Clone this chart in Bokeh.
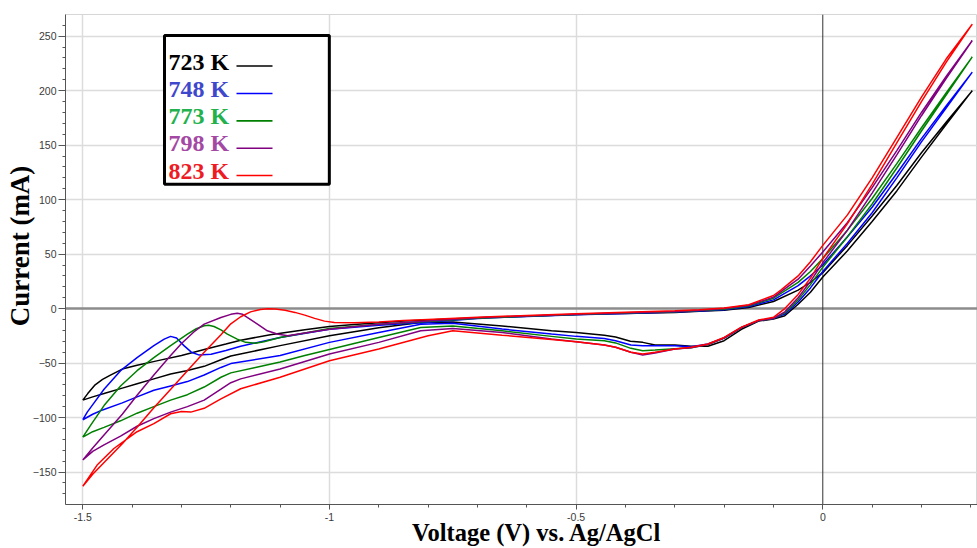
from bokeh.plotting import figure
from bokeh.models import (Range1d, FixedTicker, Span, Label, BoxAnnotation,
                          CustomJSTickFormatter)
from bokeh.embed import file_html
from bokeh.resources import INLINE

# Cyclic voltammograms: potential (V vs. Ag/AgCl) and current (mA).
# Each loop starts at -1.5 V, sweeps anodically to +0.303 V and returns.
temps = ["723 K", "748 K", "773 K", "798 K", "823 K"]
curve_colors = ["#000000", "#0000ff", "#008000", "#800080", "#ff0000"]
legend_colors = ["#000000", "#3f48cc", "#22b14c", "#a349a4", "#ed1c24"]

v_723 = [-1.5, -1.49, -1.475, -1.46, -1.444, -1.42, -1.39, -1.35, -1.30, -1.25, -1.21, -1.18,
         -1.12, -1.05, -1.0, -0.95, -0.9, -0.85, -0.8, -0.7, -0.6, -0.5, -0.4, -0.3, -0.25, -0.2,
         -0.15, -0.1, -0.05, -0.025, 0.0, 0.05, 0.1, 0.15, 0.2, 0.25, 0.303,
         0.25, 0.2, 0.15, 0.1, 0.05, 0.0, -0.025, -0.05, -0.077, -0.1, -0.13, -0.165, -0.2,
         -0.233, -0.267, -0.3, -0.34, -0.365, -0.39, -0.42, -0.443, -0.5, -0.55, -0.65, -0.75,
         -0.815, -0.9, -1.0, -1.1, -1.2, -1.22, -1.254, -1.29, -1.322, -1.356, -1.39, -1.42,
         -1.457, -1.48, -1.5]
i_723 = [-84, -78, -70, -65, -61, -55.5, -52, -48, -43, -37, -32.5, -29,
         -24, -19.5, -16.5, -14.5, -13, -11.5, -10.5, -8.5, -7, -5.5, -4.5, -3.5, -2.5, -1.5,
         1, 6.5, 17, 24, 33, 58, 85, 113, 143, 171, 200,
         169, 139, 108, 80, 53, 29, 15, 4, -6.5, -9.5, -11.5, -19, -29.5,
         -34.5, -34.5, -33.5, -33.5, -31, -30, -26, -24.4, -22, -20.3, -16, -12.3,
         -12.8, -17.5, -25, -34, -43.5, -47, -53, -57, -60, -64.5, -69, -73,
         -78, -81, -84]

v_748 = [-1.5, -1.491, -1.478, -1.457, -1.4235, -1.39, -1.356, -1.335, -1.322, -1.31, -1.295,
         -1.28, -1.265, -1.24, -1.21, -1.18, -1.1, -1.0, -0.9, -0.8, -0.7, -0.6, -0.5, -0.4,
         -0.3, -0.25, -0.2, -0.15, -0.1, -0.05, -0.025, 0.0, 0.05, 0.1, 0.15, 0.2, 0.25, 0.303,
         0.25, 0.2, 0.15, 0.1, 0.05, 0.0, -0.025, -0.05, -0.077, -0.1, -0.13, -0.165, -0.2,
         -0.233, -0.267, -0.3, -0.34, -0.365, -0.389, -0.42, -0.443, -0.5, -0.55, -0.65, -0.75,
         -0.815, -0.9, -1.0, -1.1, -1.2, -1.22, -1.254, -1.288, -1.322, -1.356, -1.39, -1.42,
         -1.46, -1.48, -1.5]
i_748 = [-102, -95, -87, -74, -57, -45, -34, -28, -25.5, -27, -34,
         -40, -42.5, -42, -38.5, -34.5, -26.5, -19, -15.2, -12.5, -9, -7.2, -5.7, -4.4,
         -3.2, -2.2, -1, 2, 8, 21, 30, 40, 66, 93, 124, 156, 186, 217,
         184, 153, 120, 88, 60, 34, 19, 6, -5, -9, -11, -17.5, -27,
         -32.5, -35, -34, -34, -34, -33.5, -29.5, -27.4, -25.5, -23.3, -18.8, -13.4,
         -14.3, -22, -31, -43, -50.5, -54, -61, -67, -71, -75, -81, -86.5,
         -93, -97, -102]

v_773 = [-1.5, -1.484, -1.457, -1.4235, -1.39, -1.356, -1.322, -1.288, -1.27, -1.254, -1.245,
         -1.234, -1.22, -1.207, -1.187, -1.17, -1.15, -1.133, -1.1, -1.0, -0.9, -0.8, -0.7,
         -0.6, -0.5, -0.4, -0.3, -0.25, -0.2, -0.15, -0.1, -0.05, -0.025, 0.0, 0.05, 0.1, 0.15,
         0.2, 0.25, 0.303,
         0.25, 0.2, 0.15, 0.1, 0.05, 0.0, -0.025, -0.05, -0.077, -0.1, -0.13, -0.165, -0.2,
         -0.233, -0.267, -0.3, -0.34, -0.365, -0.389, -0.42, -0.443, -0.5, -0.55, -0.65, -0.75,
         -0.815, -0.9, -1.0, -1.05, -1.1, -1.15, -1.2, -1.22, -1.254, -1.288, -1.322, -1.356,
         -1.39, -1.4235, -1.457, -1.48, -1.5]
i_773 = [-118, -107, -89, -71, -57, -45, -34, -23.5, -18.5, -15.7, -15.3,
         -16.4, -19.5, -23.4, -28, -31, -31.8, -30.5, -26.5, -18.2, -14.3, -11.8, -8.8,
         -7, -5.4, -4.1, -2.9, -1.8, -0.5, 2.5, 9.5, 24, 34, 46, 72, 101, 133,
         166, 198, 231,
         196, 163, 129, 96, 66, 38, 22, 8, -4, -9, -11, -17.4, -27,
         -33, -36, -36.8, -38, -38.6, -36.5, -31.5, -29.5, -28, -25.5, -20.4, -15.9,
         -17.4, -26.5, -37.5, -43, -49, -54, -59, -63, -72, -79, -84, -90,
         -96, -103, -109, -113, -118]

v_798 = [-1.5, -1.48, -1.457, -1.42, -1.39, -1.356, -1.322, -1.3, -1.275, -1.254, -1.22, -1.2,
         -1.187, -1.176, -1.166, -1.146, -1.126, -1.106, -1.085, -1.05, -1.0, -0.9, -0.8, -0.7,
         -0.6, -0.5, -0.4, -0.3, -0.25, -0.2, -0.15, -0.1, -0.05, -0.025, 0.0, 0.05, 0.1, 0.15,
         0.2, 0.25, 0.303,
         0.25, 0.2, 0.15, 0.1, 0.05, 0.0, -0.025, -0.05, -0.077, -0.1, -0.13, -0.165, -0.2,
         -0.233, -0.267, -0.3, -0.34, -0.365, -0.389, -0.42, -0.443, -0.5, -0.55, -0.65, -0.75,
         -0.815, -0.9, -1.0, -1.1, -1.18, -1.2, -1.22, -1.254, -1.288, -1.322, -1.356, -1.39,
         -1.4235, -1.457, -1.48, -1.5]
i_798 = [-139, -128, -116, -97, -79.5, -61, -43, -32, -21.5, -14.3, -8.2, -5.3,
         -4.3, -5.2, -8.2, -14.3, -20.4, -23.4, -25, -22.5, -18.9, -14.3, -11.3, -8.4,
         -6.7, -5.2, -3.8, -2.6, -1.5, 0, 3, 10.5, 27, 39, 52, 79, 111, 145,
         180, 213, 246,
         211, 177, 141, 106, 72, 42, 25, 10, -3, -9, -11, -17.4, -27,
         -33, -36, -37, -40.7, -42.6, -40.1, -35.5, -33.5, -30.4, -28, -22, -18.3,
         -20.4, -31, -41.7, -55.4, -64.5, -68, -74, -84, -90, -95, -101, -108,
         -117, -125, -131, -139]

v_823 = [-1.5, -1.48, -1.45, -1.42, -1.39, -1.356, -1.32, -1.288, -1.254, -1.22, -1.2, -1.18,
         -1.16, -1.14, -1.125, -1.11, -1.09, -1.07, -1.05, -1.03, -1.01, -0.99, -0.95, -0.9,
         -0.85, -0.8, -0.7, -0.6, -0.5, -0.4, -0.3, -0.25, -0.2, -0.15, -0.1, -0.085, -0.05,
         -0.025, 0.0, 0.05, 0.1, 0.15, 0.2, 0.25, 0.303,
         0.25, 0.2, 0.15, 0.1, 0.05, 0.0, -0.025, -0.05, -0.077, -0.1, -0.13, -0.165, -0.2,
         -0.233, -0.267, -0.3, -0.34, -0.365, -0.389, -0.42, -0.443, -0.5, -0.55, -0.65, -0.75,
         -0.8, -0.9, -1.0, -1.1, -1.18, -1.22, -1.254, -1.281, -1.3, -1.322, -1.356, -1.39,
         -1.437, -1.471, -1.5]
i_823 = [-163, -152, -138, -124, -109, -91, -73, -57, -40, -24, -14, -7.5,
         -3, -0.8, -0.2, -0.4, -1.5, -3.5, -6, -9, -11.5, -12.8, -13, -12.2,
         -11, -10, -8, -6.3, -4.8, -3.4, -2, -1, 0.5, 3.5, 12, 17, 30,
         43, 58, 86, 120, 157, 194, 229, 261,
         226, 190, 152, 114, 78, 46, 28, 13, 0, -8, -10.5, -17, -26.5,
         -32.5, -35.5, -37, -40, -41.7, -40.1, -35.5, -33.5, -30.4, -28.3, -24.4, -20.4,
         -25, -37, -47.8, -63, -73.6, -82.8, -91.5, -95, -94.5, -96.5, -105.6, -113,
         -128.4, -143.6, -163]

voltages = [v_723, v_748, v_773, v_798, v_823]
currents = [i_723, i_748, i_773, i_798, i_823]

x_ticks = [-1.5, -1.0, -0.5, 0.0]
y_ticks = [-150, -100, -50, 0, 50, 100, 150, 200, 250]

for v, c in zip(voltages, currents):
    assert len(v) == len(c)

p = figure(width=977, height=548, output_backend="svg", toolbar_location=None,
           x_range=Range1d(-1.5351, 0.3136), y_range=Range1d(-179.8, 269.9),
           min_border_left=65, min_border_right=0, min_border_top=14, min_border_bottom=42)
p.background_fill_color = "white"
p.border_fill_color = "white"
p.outline_line_color = "#d6d6d6"

# grid
p.xgrid.ticker = FixedTicker(ticks=[t for t in x_ticks if t != 0])
p.ygrid.ticker = FixedTicker(ticks=[t for t in y_ticks if t != 0])
for g in (p.xgrid, p.ygrid):
    g.grid_line_color = "#dcdcdc"
    g.grid_line_width = 1.5

# zero lines
p.add_layout(Span(location=0, dimension="width", line_color="#8c8c8c",
                  line_width=2.5, level="underlay"))
p.add_layout(Span(location=0, dimension="height", line_color="#333333",
                  line_width=1, level="underlay"))

# axes
x_minor = [round(-1.5 + 0.1 * k, 1) for k in range(19)]
y_minor = list(range(-170, 270, 10))
p.xaxis.ticker = FixedTicker(ticks=x_ticks, minor_ticks=x_minor)
p.xaxis.formatter = CustomJSTickFormatter(code="return String(tick);")
p.yaxis.ticker = FixedTicker(ticks=y_ticks, minor_ticks=y_minor)
for ax in (p.xaxis, p.yaxis):
    ax.axis_line_color = "#555555"
    ax.axis_line_width = 1
    ax.major_tick_line_color = "#555555"
    ax.minor_tick_line_color = "#555555"
    ax.major_tick_in = 0
    ax.minor_tick_in = 0
    ax.major_label_text_font = "Liberation Sans"
    ax.major_label_text_font_size = "10.5px"
    ax.major_label_text_color = "#3a3a3a"
    ax.axis_label_text_font = "Liberation Serif"
    ax.axis_label_text_font_style = "bold"
    ax.axis_label_text_color = "black"
# the titles sit a little off the frame centre; non-breaking spaces nudge them
p.yaxis.major_tick_out = 7
p.yaxis.minor_tick_out = 3
p.yaxis.major_label_standoff = 2
p.yaxis.axis_label = "\u00a0" * 4 + "Current (mA)"
p.yaxis.axis_label_text_font_size = "27px"
p.yaxis.axis_label_standoff = -5
p.xaxis.major_tick_out = 5
p.xaxis.minor_tick_out = 3
p.xaxis.major_label_standoff = 3
p.xaxis.axis_label = "\u00a0" * 5 + "Voltage (V) vs. Ag/AgCl"
p.xaxis.axis_label_text_font_size = "24.5px"
p.xaxis.axis_label_standoff = -5

# curves
for v, c, col in zip(voltages, currents, curve_colors):
    p.line(v, c, line_color=col, line_width=1.5)

# legend box
p.add_layout(BoxAnnotation(left=-1.3344, right=-1.0003, top=250.7, bottom=114.0,
                           fill_color="white", fill_alpha=1.0,
                           line_color="black", line_width=3, line_alpha=1.0))
text_y = [226.3, 201.4, 176.9, 151.7, 126.4]
line_y = [222.6, 197.4, 172.3, 147.1, 122.1]
for t, ty, tc in zip(temps, text_y, legend_colors):
    p.add_layout(Label(x=-1.3263, y=ty, text=t, text_align="left",
                       text_baseline="alphabetic", text_font="Liberation Serif",
                       text_font_style="bold", text_font_size="24px", text_color=tc))
p.segment(x0=[-1.1885] * 5, y0=line_y, x1=[-1.1155] * 5, y1=line_y,
          line_color=curve_colors, line_width=1.6, level="overlay")

open("out.html", "w").write(file_html(p, INLINE))
